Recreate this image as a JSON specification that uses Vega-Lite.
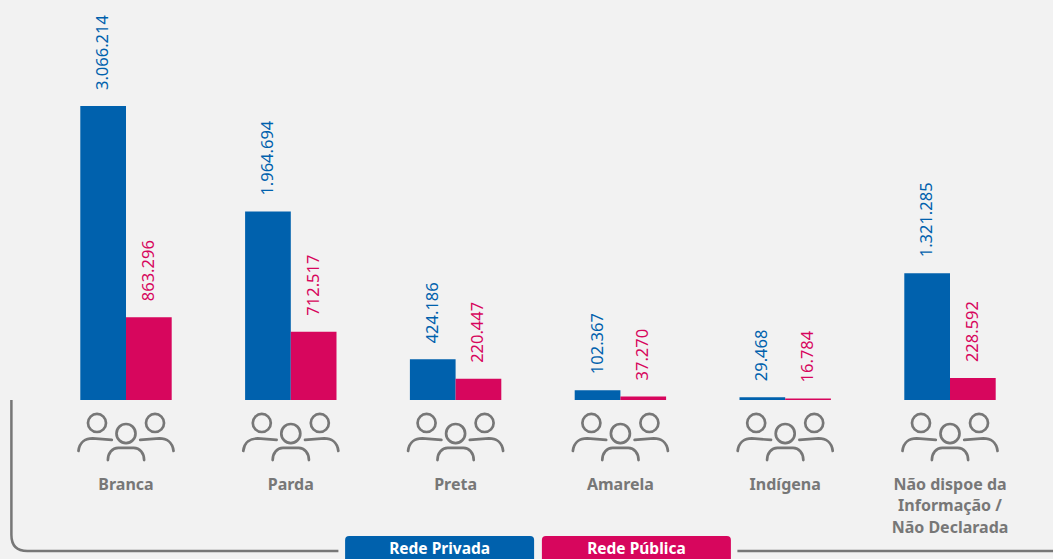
{
"$schema":"https://vega.github.io/schema/vega-lite/v6.json",
"width":1053,"height":400,
"autosize":{"type":"none"},
"padding":{"left":0,"right":0,"top":0,"bottom":159},
"background":"#f2f2f2",
"config":{"view":{"stroke":null},"font":"Noto Sans"},
"datasets":{
"rows":[
{"cat":"Branca","rede":"Rede Privada","v":3066214,"label":"3.066.214"},
{"cat":"Branca","rede":"Rede Pública","v":863296,"label":"863.296"},
{"cat":"Parda","rede":"Rede Privada","v":1964694,"label":"1.964.694"},
{"cat":"Parda","rede":"Rede Pública","v":712517,"label":"712.517"},
{"cat":"Preta","rede":"Rede Privada","v":424186,"label":"424.186"},
{"cat":"Preta","rede":"Rede Pública","v":220447,"label":"220.447"},
{"cat":"Amarela","rede":"Rede Privada","v":102367,"label":"102.367"},
{"cat":"Amarela","rede":"Rede Pública","v":37270,"label":"37.270"},
{"cat":"Indígena","rede":"Rede Privada","v":29468,"label":"29.468"},
{"cat":"Indígena","rede":"Rede Pública","v":16784,"label":"16.784"},
{"cat":"Não dispoe da Informação / Não Declarada","rede":"Rede Privada","v":1321285,"label":"1.321.285"},
{"cat":"Não dispoe da Informação / Não Declarada","rede":"Rede Pública","v":228592,"label":"228.592"}
],
"cats":[{"cat":"Branca"},{"cat":"Parda"},{"cat":"Preta"},{"cat":"Amarela"},{"cat":"Indígena"},{"cat":"Não dispoe da Informação / Não Declarada"}]
},
"data":{"name":"rows"},
"encoding":{
"x":{"field":"cat","type":"nominal","sort":null,
"scale":{"domain":["Branca","Parda","Preta","Amarela","Indígena","Não dispoe da Informação / Não Declarada"],"range":[43.6,1032.4],"paddingInner":0,"paddingOuter":0},
"axis":{"title":null,"domain":false,"ticks":false,"labelAngle":0,"labelPadding":76,"labelFontSize":16,"labelFontWeight":"bold","labelColor":"#777777","labelFont":"Noto Sans","labelLimit":400,"labelOverlap":false,"labelFlush":false,"labelLineHeight":21.5,"labelBaseline":"top",
"labelExpr":"indexof(datum.value,'Informação')>0 ? ['Não dispoe da','Informação /','Não Declarada'] : datum.label"}}
},
"layer":[
{"mark":{"type":"bar"},
"encoding":{
"xOffset":{"field":"rede","type":"nominal","scale":{"domain":["Rede Privada","Rede Pública"],"range":[36.7,128.1],"paddingInner":0,"paddingOuter":0}},
"y":{"field":"v","type":"quantitative","scale":{"domain":[0,4171720],"nice":false},"axis":null},
"color":{"field":"rede","type":"nominal","scale":{"domain":["Rede Privada","Rede Pública"],"range":["#0061ad","#d7065d"]},"legend":null}
}},
{"mark":{"type":"text","angle":270,"align":"left","baseline":"middle","dx":16,"fontSize":16.5,"font":"Noto Sans"},
"encoding":{
"xOffset":{"field":"rede","type":"nominal","scale":{"domain":["Rede Privada","Rede Pública"],"range":[36.7,128.1],"paddingInner":0,"paddingOuter":0}},
"y":{"field":"v","type":"quantitative"},
"text":{"field":"label"},
"color":{"field":"rede","type":"nominal","legend":null}
}},
{"data":{"name":"cats"},
"mark":{"type":"point","filled":false,"opacity":1,"stroke":"#777777","strokeWidth":2.7,"strokeCap":"round","yOffset":37,"size":9604,
"shape":"M-.408 -.286a.184 .184 0 1 0 -.368 0a.184 .184 0 1 0 .368 0M.776 -.286a.184 .184 0 1 0 -.368 0a.184 .184 0 1 0 .368 0M.194 -.071a.194 .194 0 1 0 -.388 0a.194 .194 0 1 0 .388 0M-.97 .286C-.95 .1 -.82 .03 -.68 .03L-.29 .06M.97 .286C.95 .1 .82 .03 .68 .03L.29 .06M-.37 .47C-.37 .33 -.28 .22 -.16 .22L.16 .22C.28 .22 .37 .33 .37 .47"},
"encoding":{"y":{"datum":0,"type":"quantitative"}}},
{"data":{"values":[{"frame":"moldura"}]},
"mark":{"type":"point","filled":false,"opacity":1,"stroke":"#777777","strokeWidth":2.5,"size":1537600,
"shape":"M-.98226 0L-.98226 .21774Q-.98226 .24355 -.95645 .24355L-.45484 .24355M.18871 .24355L.69839 .24355"},
"encoding":{"x":{"datum":"Amarela"},"y":{"datum":0,"type":"quantitative"}}},
{"data":{"values":[{"rede":"Rede Privada"}]},
"mark":{"type":"point","filled":true,"opacity":1,"size":40000,"yOffset":152,"xOffset":-16,
"shape":"M-.945 .16L-.945 -.12Q-.945 -.16 -.905 -.16L.905 -.16Q.945 -.16 .945 -.12L.945 .16Z"},
"encoding":{"x":{"datum":"Preta"},"y":{"datum":0,"type":"quantitative"},"color":{"field":"rede","type":"nominal","legend":null}}},
{"data":{"values":[{"rede":"Rede Pública"}]},
"mark":{"type":"point","filled":true,"opacity":1,"size":40000,"yOffset":152,"xOffset":16,
"shape":"M-.945 .16L-.945 -.12Q-.945 -.16 -.905 -.16L.905 -.16Q.945 -.16 .945 -.12L.945 .16Z"},
"encoding":{"x":{"datum":"Amarela"},"y":{"datum":0,"type":"quantitative"},"color":{"field":"rede","type":"nominal","legend":null}}},
{"data":{"values":[{"rede":"Rede Privada"}]},
"mark":{"type":"text","color":"#ffffff","fontWeight":"bold","fontSize":15.5,"font":"Noto Sans","yOffset":149,"xOffset":-16,"align":"center","baseline":"middle"},
"encoding":{"x":{"datum":"Preta"},"y":{"datum":0,"type":"quantitative"},"text":{"field":"rede"}}},
{"data":{"values":[{"rede":"Rede Pública"}]},
"mark":{"type":"text","color":"#ffffff","fontWeight":"bold","fontSize":15.5,"font":"Noto Sans","yOffset":149,"xOffset":16,"align":"center","baseline":"middle"},
"encoding":{"x":{"datum":"Amarela"},"y":{"datum":0,"type":"quantitative"},"text":{"field":"rede"}}}
]
}
